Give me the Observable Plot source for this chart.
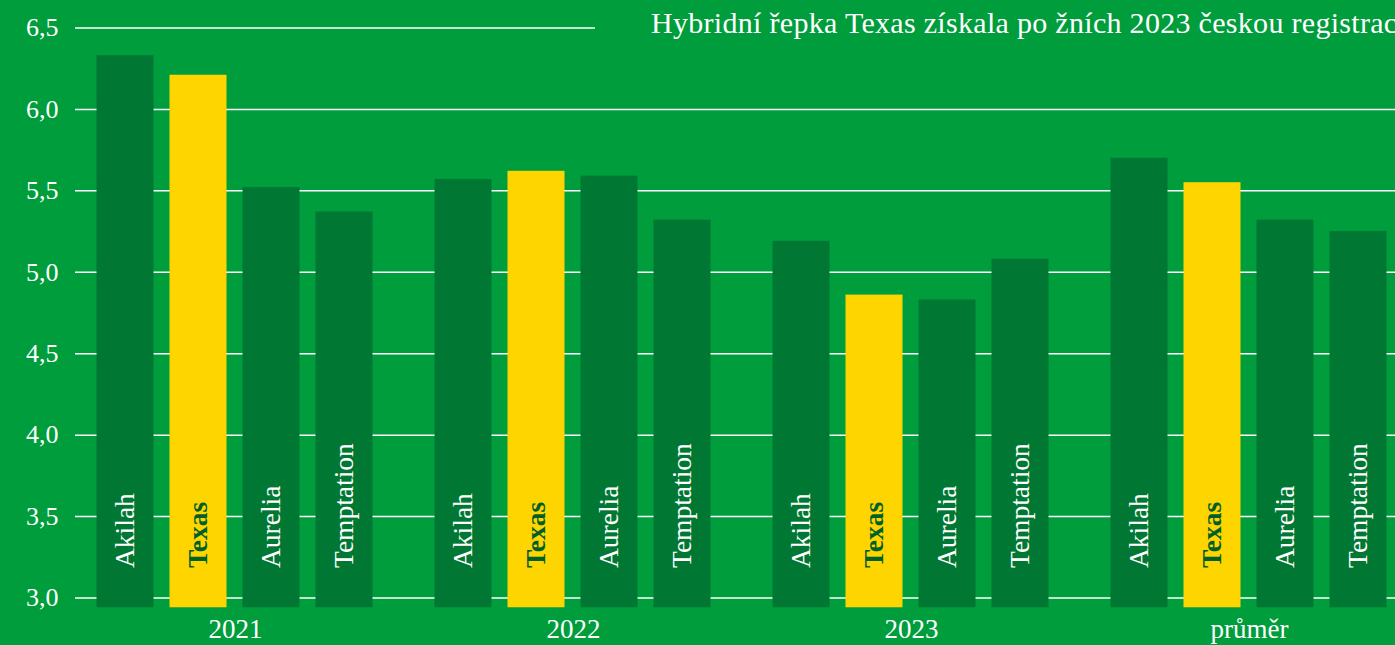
<!DOCTYPE html>
<html><head><meta charset="utf-8">
<script src="https://cdn.jsdelivr.net/npm/d3@7"></script>
<script src="https://cdn.jsdelivr.net/npm/@observablehq/plot@0.6"></script>
<style>
html,body{margin:0;padding:0;background:#009D3C;}
#chart{position:relative;width:1395px;height:645px;overflow:hidden;background:#009D3C;font-family:"Liberation Serif",serif;}
#chart svg{position:absolute;left:0;top:0;}
#title{position:absolute;left:595px;right:0;top:7px;padding-left:56px;white-space:nowrap;overflow:hidden;background:#009D3C;color:#fff;font-size:30px;letter-spacing:0.3px;line-height:32px;z-index:3;}
</style></head><body>
<div id="chart"><div id="title">Hybridní řepka Texas získala po žních 2023 českou registraci</div></div>
<script>
const groups = ["2021", "2022", "2023", "průměr"];
const varieties = ["Akilah", "Texas", "Aurelia", "Temptation"];
const values2021 = [6.33, 6.21, 5.52, 5.37];
const values2022 = [5.57, 5.62, 5.59, 5.32];
const values2023 = [5.19, 4.86, 4.83, 5.08];
const valuesAvg = [5.70, 5.55, 5.32, 5.25];
const yTicks = [3, 3.5, 4, 4.5, 5, 5.5, 6, 6.5];

const series = [values2021, values2022, values2023, valuesAvg];
const data = groups.flatMap((g, gi) => varieties.map((v, vi) => ({group: g, variety: v, value: series[gi][vi]})));

const BG = "#009D3C", DARK = "#007732", YELLOW = "#FFD500", TEXASTXT = "#00602A";
const fmt = d => d3.format(".1f")(d).replace(".", ",");
const common = {width: 1395, height: 645, marginTop: 27.5, marginBottom: 47.5};
const chart = document.getElementById("chart");

const gridPlot = Plot.plot({
  ...common,
  marginLeft: 75, marginRight: 0,
  style: {background: "transparent", color: "#fff", fontFamily: "'Liberation Serif', serif", fontSize: "26px", overflow: "visible"},
  y: {domain: [3, 6.5], ticks: yTicks, tickSize: 0, tickPadding: 17, tickFormat: fmt, label: null},
  marks: [
    Plot.ruleY(yTicks, {stroke: "#fff", strokeWidth: 1.5})
  ]
});
chart.appendChild(gridPlot);

const barPlot = Plot.plot({
  ...common,
  marginLeft: 95.5, marginRight: 7.5,
  style: {background: "transparent", color: "#fff", fontFamily: "'Liberation Serif', serif", fontSize: "27px", overflow: "visible"},
  fx: {domain: groups, paddingInner: 60 / 338, paddingOuter: 0, axis: "bottom", tickSize: 0, tickPadding: 21, label: null},
  x: {domain: varieties, paddingInner: 16 / 73.5, paddingOuter: 0, axis: null},
  y: {domain: [3, 6.5], axis: null},
  color: {domain: varieties, range: [DARK, YELLOW, DARK, DARK]},
  marks: [
    Plot.barY(data, {fx: "group", x: "variety", y1: 2.94, y2: "value", fill: "variety"}),
    Plot.text(data, {filter: d => d.variety !== "Texas", fx: "group", x: "variety", y: 3, dy: -30, text: "variety", rotate: -90, textAnchor: "start", fill: "#fff", fontSize: 27.5}),
    Plot.text(data, {filter: d => d.variety === "Texas", fx: "group", x: "variety", y: 3, dy: -30, text: "variety", rotate: -90, textAnchor: "start", fill: TEXASTXT, fontWeight: "bold", fontSize: 27.5})
  ]
});
chart.appendChild(barPlot);
</script>
</body></html>
